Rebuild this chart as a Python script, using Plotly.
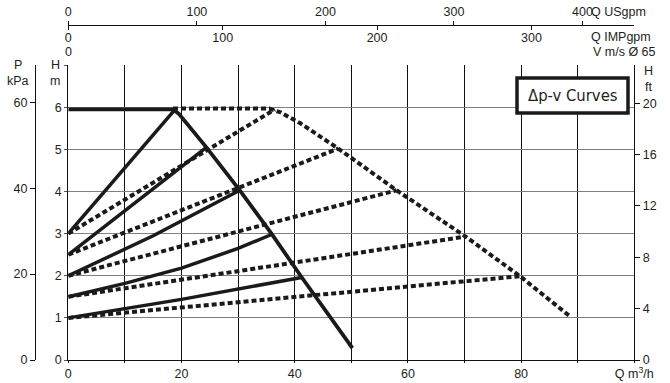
import plotly.graph_objects as go

# ---- data (Q in m3/h, H in m) ----
max_solid_q = [0, 18.5, 19.5, 24.4, 30.3, 35.9, 41.2, 50.2]
max_solid_h = [5.95, 5.95, 5.85, 5.05, 4.03, 3.0, 1.97, 0.28]

max_dash_q = [18.5, 35.5, 37.5, 41.0, 47.7, 58.0, 70.2, 79.8, 88.6]
max_dash_h = [5.97, 5.97, 5.88, 5.62, 5.02, 4.03, 2.93, 1.99, 1.04]

solid_q = [[0, 18.8], [0, 24.4], [0, 15, 30.3], [0, 10, 20, 30, 35.9], [0, 20, 41.2]]
solid_h = [[3.0, 5.94], [2.5, 5.05], [2.0, 2.95, 4.03], [1.5, 1.82, 2.18, 2.65, 2.98], [1.0, 1.44, 1.96]]

dash_q = [[0, 36.5], [0, 47.7], [0, 58.0], [0, 70.2], [0, 79.8]]
dash_h = [[3.0, 5.95], [2.5, 5.02], [2.0, 4.03], [1.5, 2.93], [1.0, 1.99]]

q_ticks = [0, 10, 20, 30, 40, 50, 60, 70, 80, 90, 100]
q_labels = ["0", "", "20", "", "40", "", "60", "", "80", "", "Q m<sup>3</sup>/h"]
h_ticks = [0, 1, 2, 3, 4, 5, 6, 7]
h_labels = ["0", "1", "2", "3", "4", "5", "6", ""]
kpa_ticks = [0, 20, 40, 60]
ft_ticks = [0, 4, 8, 12, 16, 20]
usgpm_ticks = [0, 100, 200, 300, 400]
impgpm_ticks = [0, 100, 200, 300]

W, H = 670, 383


def px(x):
    return x / W


def py(y):
    return 1 - y / H


FONT = "Liberation Sans, Arial, sans-serif"
TXT = "#231f20"
FS = 12.5

fig = go.Figure()

# dashed curves
for q, h in zip(dash_q, dash_h):
    fig.add_trace(go.Scatter(x=q, y=h, mode="lines",
                             line=dict(color="#1a1a1a", width=4, dash="5px,3px"),
                             hoverinfo="skip", showlegend=False))
fig.add_trace(go.Scatter(x=max_dash_q, y=max_dash_h, mode="lines",
                         line=dict(color="#1a1a1a", width=4, dash="5px,3px"),
                         hoverinfo="skip", showlegend=False))
# solid curves
for q, h in zip(solid_q, solid_h):
    fig.add_trace(go.Scatter(x=q, y=h, mode="lines",
                             line=dict(color="#1a1a1a", width=3.5),
                             hoverinfo="skip", showlegend=False))
fig.add_trace(go.Scatter(x=max_solid_q, y=max_solid_h, mode="lines",
                         line=dict(color="#1a1a1a", width=3.8),
                         hoverinfo="skip", showlegend=False))

# dummy traces to activate extra axes
for xa, ya in [("x2", "y"), ("x3", "y"), ("x", "y2"), ("x", "y3")]:
    fig.add_trace(go.Scatter(x=[None], y=[None], xaxis=xa, yaxis=ya,
                             showlegend=False, hoverinfo="skip"))

xdom = [px(68.3), px(634.3)]
ydom = [py(360), py(65.2)]
tickfont = dict(family=FONT, size=FS, color=TXT)

fig.update_layout(
    width=W, height=H,
    margin=dict(l=0, r=0, t=0, b=0, autoexpand=False),
    paper_bgcolor="white", plot_bgcolor="white",
    showlegend=False,
    xaxis=dict(domain=xdom, range=[0, 100], tickmode="array",
               tickvals=q_ticks, ticktext=q_labels, showgrid=True,
               gridcolor="#111", gridwidth=1, zeroline=False,
               showline=True, linecolor="#111", linewidth=1.2,
               ticks="outside", ticklen=2, tickcolor="#111",
               tickfont=tickfont, fixedrange=True, automargin=False),
    yaxis=dict(domain=ydom, range=[0, 7], tickmode="array",
               tickvals=h_ticks, ticktext=h_labels, showgrid=True,
               gridcolor="#808080", gridwidth=1.3, zeroline=False,
               showline=True, mirror=True, linecolor="#111", linewidth=1.2,
               ticks="outside", ticklen=3, tickcolor="#555",
               tickfont=tickfont, fixedrange=True, automargin=False),
    yaxis2=dict(overlaying="y", anchor="free", position=px(35), side="left",
                range=[0, 7 * 9.80665], tickmode="array", tickvals=kpa_ticks,
                showgrid=False, zeroline=False, showline=True,
                linecolor="#111", linewidth=1, ticks="outside", ticklen=5,
                tickcolor="#111", tickfont=tickfont, fixedrange=True,
                automargin=False),
    yaxis3=dict(overlaying="y", anchor="x", side="right",
                range=[0, 7 / 0.3048], tickmode="array", tickvals=ft_ticks,
                showgrid=False, zeroline=False, showline=False,
                ticks="outside", ticklen=5, tickcolor="#111",
                tickfont=tickfont, fixedrange=True, automargin=False),
    xaxis2=dict(overlaying="x", anchor="free", position=py(25), side="top",
                range=[0, 100 / 0.227125], tickmode="array",
                tickvals=usgpm_ticks, showgrid=False, zeroline=False,
                showline=True, linecolor="#111", linewidth=1,
                ticks="outside", ticklen=4, tickcolor="#111",
                tickfont=tickfont, fixedrange=True, automargin=False),
    xaxis3=dict(overlaying="x", anchor="free", position=py(25), side="bottom",
                range=[0, 100 / 0.2727654], tickmode="array",
                tickvals=impgpm_ticks, showgrid=False, zeroline=False,
                showline=False, ticks="outside", ticklen=4, tickcolor="#111",
                ticklabelstandoff=-3,
                tickfont=tickfont, fixedrange=True, automargin=False),
)


def label(text, x, y, xanchor="center", size=FS, family=FONT):
    fig.add_annotation(text=text, x=px(x), y=py(y), xref="paper", yref="paper",
                       xanchor=xanchor, yanchor="middle", showarrow=False,
                       font=dict(family=family, size=size, color=TXT))


label("P", 18, 65)
label("kPa", 18, 81)
label("H", 55, 65)
label("m", 55, 81)
label("H", 648, 71)
label("ft", 648, 87)
label("Q USgpm", 589, 12, xanchor="left")
label("Q IMPgpm", 589, 37, xanchor="left")
label("0", 68.3, 52)
label("V m/s Ø 65", 591, 52, xanchor="left")

# legend box
fig.add_shape(type="rect", xref="paper", yref="paper",
              x0=px(517), x1=px(628), y0=py(113), y1=py(78),
              line=dict(color="#1a1a1a", width=3.5), fillcolor="white",
              layer="above")
label("Δp-v Curves", 572.5, 96, size=16.5,
      family="DejaVu Sans Condensed, Liberation Sans Narrow, sans-serif")

fig.write_html("out.html",
               config={"displayModeBar": False},
               post_script="document.body.style.margin='0px';")
